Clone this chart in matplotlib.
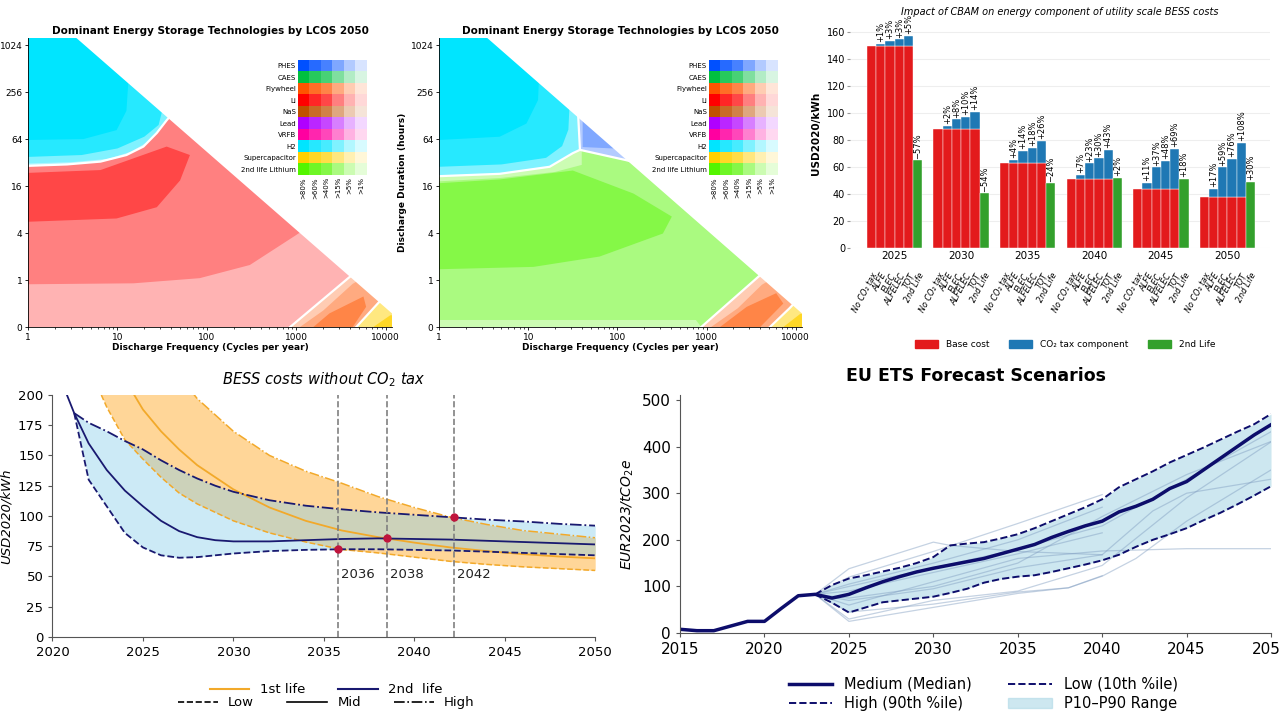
import numpy as np
import matplotlib.pyplot as plt
from matplotlib.lines import Line2D
from matplotlib.patches import Patch
from matplotlib.colors import to_rgb
from matplotlib.ticker import NullFormatter

plt.rcParams["font.family"] = "DejaVu Sans"

# ---------------- LCOS maps (top left / top middle) ----------------
techs = ["PHES", "CAES", "Flywheel", "Li", "NaS", "Lead", "VRFB", "H2",
         "Supercapacitor", "2nd life Lithium"]
tech_colors = ["#0050FF", "#00C040", "#FF5500", "#FF0000", "#C05000",
               "#B000FF", "#FF00A0", "#00E5FF", "#FFD000", "#55F500"]
share_labels = [">80%", ">60%", ">40%", ">15%", ">5%", ">1%"]
share_alpha = [1.0, 0.85, 0.72, 0.5, 0.3, 0.15]
freq_ticks = [1, 10, 100, 1000, 10000]
dur_labels = ["0", "1", "4", "16", "64", "256", "1024"]
cycle_hours_limit = 4380

# areas: technology, share level, log10(cycles per year), duration step (log4 hours, -1 = "0")
lcos_map_li = [
    ("Li", 4, [0, 4.3, 4.3, 0], [-1, -1, 6.5, 6.5]),
    ("Li", 3, [0, 1.18, 1.92, 2.48, 3.0, 3.5, 3.5, 0], [-0.09, -0.07, 0.04, 0.32, 0.96, 1.6, 6.5, 6.5]),
    ("Li", 2, [0, 0.81, 1.55, 1.81, 1.70, 1.44, 0.99, 0], [2.28, 2.34, 2.84, 2.66, 2.12, 1.55, 1.31, 1.24]),
    ("H2", 4, [0, 0.435, 0.81, 1.10, 1.29, 1.44, 1.55, 1.7, 1.7, 0], [2.43, 2.46, 2.52, 2.66, 2.84, 3.13, 3.40, 3.7, 6.5, 6.5]),
    ("H2", 3, [0, 0.5, 0.9, 1.15, 1.33, 1.46, 1.56, 1.7, 1.7, 0], [2.48, 2.51, 2.58, 2.73, 2.93, 3.2, 3.45, 3.7, 6.5, 6.5]),
    ("H2", 1, [0, 0.6, 1.0, 1.3, 1.46, 1.5, 1.5, 0], [2.62, 2.66, 2.8, 3.05, 3.3, 3.6, 6.5, 6.5]),
    ("H2", 0, [0, 0.62, 0.99, 1.1, 1.12, 1.12, 0], [2.98, 3.0, 3.19, 3.6, 4.18, 6.5, 6.5]),
    ("Flywheel", 4, [2.93, 3.58, 3.8, 4.3, 4.3], [-1, 0.04, 0.3, 0.3, -1]),
    ("Flywheel", 3, [3.04, 3.3, 3.63, 3.8, 4.3, 4.3], [-1, -0.65, -0.08, 0.1, 0.1, -1]),
    ("Flywheel", 2, [3.19, 3.37, 3.75, 3.78, 3.63], [-1, -0.71, -0.35, -0.57, -1]),
    ("Supercapacitor", 3, [3.67, 3.91, 4.0, 4.3, 4.3], [-1, -0.5, -0.3, -0.3, -1]),
    ("Supercapacitor", 1, [3.86, 4.05, 4.3, 4.3], [-1, -0.75, -0.75, -1]),
]
lcos_edges_li = [
    ([0, 0.435, 0.81, 1.10, 1.29, 1.44, 1.55, 1.62], [2.43, 2.46, 2.52, 2.66, 2.84, 3.13, 3.40, 3.55]),
    ([2.93, 3.58, 3.65], [-1, 0.04, 0.15]),
    ([3.67, 3.91, 3.97], [-1, -0.5, -0.38]),
]

lcos_map_2nd = [
    ("2nd life Lithium", 3, [0, 4.3, 4.3, 0], [-1, -1, 6.5, 6.5]),
    ("2nd life Lithium", 4, [0, 2.94, 2.88, 0], [-1, -1, -0.85, -0.85]),
    ("2nd life Lithium", 4, [0, 0.68, 1.3, 1.6, 1.6, 0], [2.1, 2.17, 2.3, 2.45, 6.5, 6.5]),
    ("2nd life Lithium", 2, [0, 0.68, 1.50, 2.18, 2.61, 2.51, 1.80, 1.06, 0], [2.06, 2.14, 2.33, 1.84, 1.35, 0.99, 0.50, 0.28, 0.23]),
    ("H2", 3, [0, 0.68, 1.24, 1.5, 1.58, 1.55, 0], [2.21, 2.26, 2.41, 2.70, 2.77, 6.5, 6.5]),
    ("H2", 1, [0, 0.7, 1.2, 1.38, 1.45, 1.47, 1.47, 0], [2.41, 2.46, 2.6, 2.85, 3.2, 4.0, 6.5, 6.5]),
    ("H2", 0, [0, 0.68, 0.98, 1.11, 1.12, 1.12, 0], [2.98, 3.05, 3.33, 3.83, 4.3, 6.5, 6.5]),
    ("PHES", 4, [1.58, 2.1, 2.4, 2.4, 1.55], [2.77, 2.55, 2.6, 6.5, 6.5]),
    ("PHES", 3, [1.61, 1.61, 1.95, 2.1], [3.6, 2.83, 2.8, 2.95]),
    ("Flywheel", 4, [2.94, 3.58, 3.8, 4.3, 4.3], [-1, 0.07, 0.3, 0.3, -1]),
    ("Flywheel", 3, [3.05, 3.35, 3.62, 3.8, 4.3, 4.3], [-1, -0.6, -0.1, 0.1, 0.1, -1]),
    ("Flywheel", 2, [3.15, 3.45, 3.78, 3.86, 3.6], [-1, -0.57, -0.28, -0.5, -1]),
    ("Supercapacitor", 3, [3.71, 3.93, 4.0, 4.3, 4.3], [-1, -0.6, -0.45, -0.45, -1]),
    ("Supercapacitor", 1, [3.86, 4.05, 4.3, 4.3], [-1, -0.72, -0.72, -1]),
]
lcos_edges_2nd = [
    ([0, 0.68, 1.24, 1.5, 1.58], [2.21, 2.26, 2.41, 2.70, 2.77]),
    ([1.58, 1.56], [2.77, 3.5]),
    ([1.58, 2.1, 2.2], [2.77, 2.55, 2.5]),
    ([2.94, 3.58, 3.65], [-1, 0.07, 0.18]),
    ([3.71, 3.93, 3.98], [-1, -0.6, -0.5]),
]

# ---------------- CBAM bars (top right) ----------------
bar_years = ["2025", "2030", "2035", "2040", "2045", "2050"]
bar_cats = ["No CO₂ tax", "ALFE", "ELEC", "ALFELEC", "TOT", "2nd Life"]
base_cost = [150, 88.5, 63, 51, 43.5, 37.5]
cost_alfe = [151.5, 90.5, 65.5, 54.5, 48.5, 44]
cost_elec = [154, 95.6, 72, 63, 60, 60]
cost_alfelec = [155, 97.5, 74.5, 66.5, 64.5, 66]
cost_tot = [157.5, 101, 79.5, 73, 73.5, 78]
cost_2nd = [65, 40.5, 48, 52, 51.5, 49]
pct_alfe = ["+1%", "+2%", "+4%", "+7%", "+11%", "+17%"]
pct_elec = ["+3%", "+8%", "+14%", "+23%", "+37%", "+59%"]
pct_alfelec = ["+3%", "+10%", "+18%", "+30%", "+48%", "+76%"]
pct_tot = ["+5%", "+14%", "+26%", "+43%", "+69%", "+108%"]
pct_2nd = ["−57%", "−54%", "−24%", "+2%", "+18%", "+30%"]

# ---------------- BESS costs (bottom left) ----------------
years_1st = [2022.7, 2023, 2024, 2025, 2026, 2027, 2028, 2030, 2032, 2034, 2036, 2038, 2040, 2042, 2044, 2046, 2048, 2050]
low_1st = [200, 190, 163, 147, 132, 119, 110, 96, 86, 78.5, 72.3, 69.5, 66, 62.5, 60, 58, 56.5, 55]
mid_1st = [262, 250, 213, 188, 170, 155, 142, 122, 107, 96, 88, 82.5, 78, 74, 71, 68.5, 66.5, 65]
high_1st = [330, 318, 290, 262, 238, 216, 197, 170, 150, 137, 127, 116, 107, 99, 93, 88, 85, 82]

years_2nd = [2021.2, 2022, 2023, 2024, 2025, 2026, 2027, 2028, 2029, 2030, 2032, 2034, 2036, 2038, 2040, 2042, 2044, 2046, 2048, 2050]
low_2nd = [185, 130, 108, 86, 74, 67.5, 65.5, 66, 67.5, 69, 71, 72, 72.5, 72.5, 72, 71.5, 70.5, 69.5, 68.5, 67.5]
high_2nd = [185, 177, 170, 162, 155, 146, 138, 131, 125, 120, 113, 108.5, 105.5, 103, 101, 99, 97, 95.5, 93.5, 92]
years_2nd_mid = [2020.8] + years_2nd
mid_2nd = [200, 185, 160, 138, 121, 108, 96, 87.5, 82.5, 80, 79, 79, 80, 81, 81.5, 81, 80.5, 79.5, 78.5, 77.5, 76.5]

cross_years = [2035.8, 2038.5, 2042.2]
cross_values = [72.5, 81.5, 99]
cross_labels = ["2036", "2038", "2042"]

# ---------------- EU ETS (bottom right) ----------------
ets_years = list(range(2015, 2051))
ets_median = [8, 5, 5, 15, 25, 25, 53, 80, 83, 75, 83, 97, 110, 121, 131, 139, 146, 153, 160, 170,
              180, 190, 205, 218, 230, 240, 260, 272, 287, 310, 325, 350, 375, 400, 425, 447]
band_years = list(range(2023, 2051))
ets_p90 = [83, 103, 117, 124, 132, 140, 150, 163, 188, 192, 195, 203, 212, 225, 240, 255, 270, 287,
           313, 330, 347, 366, 382, 398, 415, 432, 448, 470]
ets_p10 = [83, 65, 44, 55, 66, 70, 74, 78, 86, 95, 108, 116, 121, 124, 131, 139, 147, 156,
           168, 185, 200, 212, 225, 242, 258, 276, 295, 315]
scen_years = [
    [2023, 2025, 2030, 2031, 2035, 2040],
    [2023, 2025, 2030, 2035, 2040],
    [2023, 2025, 2030, 2035, 2040],
    [2023, 2025, 2030, 2035, 2040],
    [2023, 2025, 2030, 2035, 2040, 2045, 2050],
    [2023, 2025, 2030, 2035, 2038, 2040, 2042, 2045, 2050],
    [2023, 2025, 2030, 2035, 2040, 2045, 2050],
    [2023, 2025, 2030, 2035, 2040, 2043, 2045, 2050],
    [2023, 2025, 2030, 2035, 2040, 2045, 2050],
    [2023, 2025, 2030, 2035, 2040, 2045, 2050],
    [2023, 2025, 2030, 2035, 2038, 2040],
]
scen_values = [
    [83, 138, 195, 188, 175, 168],
    [83, 120, 175, 235, 297],
    [83, 105, 150, 200, 270],
    [83, 90, 130, 170, 215],
    [83, 60, 110, 160, 176, 181, 181],
    [83, 25, 55, 85, 97, 122, 160, 240, 350],
    [83, 30, 70, 90, 145, 290, 410],
    [83, 70, 95, 140, 168, 262, 300, 330],
    [83, 100, 140, 180, 230, 330, 432],
    [83, 75, 100, 150, 250, 340, 411],
    [83, 45, 62, 88, 97, 123],
]


def shade(tech, level):
    base = np.array(to_rgb(tech_colors[techs.index(tech)]))
    return tuple(1 - share_alpha[level] * (1 - base))


fig = plt.figure(figsize=(12.8, 7.2), dpi=100)


def draw_lcos(rect, areas, edges, key_rect, ylabel=None):
    ax = fig.add_axes(rect)
    for tech, lev, u, v in areas:
        ax.fill(10 ** np.array(u, dtype=float), v, color=shade(tech, lev), lw=0, zorder=1)
    for u, v in edges:
        ax.plot(10 ** np.array(u, dtype=float), v, color="white", lw=1.6, zorder=2)
    # nothing above the cycles x hours limit
    u_lim = np.array([0, 4.3])
    v_lim = (np.log10(cycle_hours_limit) - u_lim) / np.log10(4)
    ax.fill(10 ** np.r_[u_lim, u_lim[::-1]], np.r_[v_lim, 8, 8], color="white", lw=0, zorder=3)
    ax.set_xscale("log")
    ax.set_xlim(1, 10 ** 4.07)
    ax.set_ylim(-1, 5.15)
    ax.set_xticks(freq_ticks, labels=[str(f) for f in freq_ticks])
    ax.xaxis.set_minor_formatter(NullFormatter())
    ax.set_yticks(range(-1, 6), labels=dur_labels)
    ax.tick_params(labelsize=6.5, length=2.5, width=0.6, pad=1.5)
    ax.tick_params(which="minor", length=1.5, width=0.5)
    ax.spines[["top", "right"]].set_visible(False)
    ax.spines[["left", "bottom"]].set_linewidth(0.6)
    ax.set_title("Dominant Energy Storage Technologies by LCOS 2050", fontsize=7.5,
                 fontweight="bold", pad=3)
    ax.set_xlabel("Discharge Frequency (Cycles per year)", fontsize=6.5, fontweight="bold", labelpad=1)
    if ylabel:
        ax.set_ylabel(ylabel, fontsize=6.5, fontweight="bold", labelpad=3)

    kax = fig.add_axes(key_rect)
    grid = np.array([[shade(t, k) for k in range(6)] for t in techs])
    kax.imshow(grid, aspect="auto", interpolation="nearest")
    kax.set_yticks(range(len(techs)), labels=techs, fontsize=5)
    kax.set_xticks(range(6), labels=share_labels, rotation=90, fontsize=5)
    kax.tick_params(length=0, pad=1.5)
    for s in kax.spines.values():
        s.set_visible(False)


draw_lcos([0.0219, 0.5458, 0.2844, 0.4014], lcos_map_li, lcos_edges_li, [0.2328, 0.7569, 0.0539, 0.1597])
draw_lcos([0.343, 0.5458, 0.2836, 0.4014], lcos_map_2nd, lcos_edges_2nd, [0.5539, 0.7569, 0.0539, 0.1597],
          ylabel="Discharge Duration (hours)")

# ---------------- CBAM bars ----------------
red, blue, green = "#E31A1C", "#1F78B4", "#33A02C"
ax3 = fig.add_axes([0.664, 0.6556, 0.3281, 0.318])
pitch = 7.2
tax_sets = [cost_alfe, cost_elec, cost_alfelec, cost_tot]
pct_sets = [pct_alfe, pct_elec, pct_alfelec, pct_tot]
bar_pos = []
for i in range(len(bar_years)):
    x0 = i * pitch
    bar_pos += [x0 + j for j in range(6)]
    ax3.bar([x0 + j for j in range(5)], base_cost[i], width=1, color=red, edgecolor="white", lw=0.3)
    for j, (vals, pcts) in enumerate(zip(tax_sets, pct_sets)):
        ax3.bar(x0 + j + 1, vals[i] - base_cost[i], bottom=base_cost[i], width=1, color=blue,
                edgecolor="white", lw=0.3)
        ax3.text(x0 + j + 1, vals[i] + 1.2, pcts[i], rotation=90, ha="center", va="bottom", fontsize=6)
    ax3.bar(x0 + 5, cost_2nd[i], width=1, color=green, edgecolor="white", lw=0.3)
    ax3.text(x0 + 5, cost_2nd[i] + 1.2, pct_2nd[i], rotation=90, ha="center", va="bottom", fontsize=6)

ax3.set_xlim(-2.34, 43.1)
ax3.set_ylim(0, 170)
ax3.set_yticks(range(0, 161, 20))
ax3.set_xticks(bar_pos, labels=bar_cats * len(bar_years), rotation=62, ha="right",
               rotation_mode="anchor", fontsize=5.8, style="italic")
ax3.set_xticks([i * pitch + 2.5 for i in range(len(bar_years))], labels=bar_years, minor=True, fontsize=7.5)
ax3.tick_params(axis="x", which="major", length=0, pad=17)
ax3.tick_params(axis="x", which="minor", length=0, pad=2)
ax3.tick_params(axis="y", labelsize=7, length=2, color="#999999", pad=1.5)
ax3.yaxis.grid(True, color="#eeeeee", lw=0.8)
ax3.set_axisbelow(True)
for s in ax3.spines.values():
    s.set_visible(False)
ax3.set_ylabel("USD2020/kWh", fontsize=7.5, fontweight="bold", labelpad=4)
ax3.set_title("Impact of CBAM on energy component of utility scale BESS costs", fontsize=7,
              style="italic", pad=3)
fig.legend(handles=[Patch(color=red), Patch(color=blue), Patch(color=green)],
           labels=["Base cost", "CO₂ tax component", "2nd Life"], loc="center",
           bbox_to_anchor=(0.832, 0.521), ncol=3, frameon=False, fontsize=6.5,
           handlelength=2.6, handleheight=1.0, columnspacing=2.2)

# ---------------- BESS costs ----------------
orange, navy = "#F2A92A", "midnightblue"
ax4 = fig.add_axes([0.041, 0.1153, 0.424, 0.3361])
ax4.fill_between(years_1st, low_1st, high_1st, color="#FFAA28", alpha=0.48, lw=0)
ax4.fill_between(years_2nd, low_2nd, high_2nd, color="#87CEEB", alpha=0.42, lw=0)
ax4.plot(years_1st, low_1st, color=orange, ls="--", lw=1.1)
ax4.plot(years_1st, mid_1st, color=orange, ls="-", lw=1.3)
ax4.plot(years_1st, high_1st, color=orange, ls="-.", lw=1.1)
ax4.plot(years_2nd, low_2nd, color=navy, ls="--", lw=1.3)
ax4.plot(years_2nd_mid, mid_2nd, color=navy, ls="-", lw=1.3)
ax4.plot(years_2nd, high_2nd, color=navy, ls="-.", lw=1.3)
for yr, val, lab in zip(cross_years, cross_values, cross_labels):
    ax4.axvline(yr, color="grey", ls="--", lw=1.2)
    ax4.text(yr + 0.15, 52, lab, fontsize=9.5, va="center", ha="left", color="#222222")
ax4.plot(cross_years, cross_values, "o", color="#C0143C", ms=5, zorder=5)
ax4.set_xlim(2020, 2050)
ax4.set_ylim(0, 200)
ax4.set_xticks(range(2020, 2051, 5))
ax4.set_yticks(range(0, 201, 25))
ax4.tick_params(labelsize=9.5, length=3, color="#555555")
ax4.spines[["top", "right"]].set_visible(False)
ax4.spines[["left", "bottom"]].set_color("#555555")
ax4.set_ylabel("USD2020/kWh", fontsize=9.5, style="italic")
ax4.set_title("BESS costs without CO$_2$ tax", fontsize=10.5, style="italic", pad=8)
fig.legend(handles=[Line2D([], [], color=orange, lw=1.5), Line2D([], [], color=navy, lw=1.5)],
           labels=["1st life", "2nd  life"], loc="center", bbox_to_anchor=(0.255, 0.042),
           ncol=2, frameon=False, fontsize=9.5, handlelength=3.0, columnspacing=2.5,
           borderpad=0, borderaxespad=0)
fig.legend(handles=[Line2D([], [], color="k", ls="--", lw=1.2), Line2D([], [], color="k", lw=1.2),
                    Line2D([], [], color="k", ls="-.", lw=1.2)],
           labels=["Low", "Mid", "High"], loc="center", bbox_to_anchor=(0.255, 0.024),
           ncol=3, frameon=False, fontsize=9.5, handlelength=3.0, columnspacing=2.5,
           borderpad=0, borderaxespad=0)

# ---------------- EU ETS ----------------
dark = "#0D0D6B"
ax5 = fig.add_axes([0.5313, 0.1208, 0.4617, 0.3301])
ax5.fill_between(band_years, ets_p10, ets_p90, color="#ADD8E6", alpha=0.6, lw=0)
for yrs, vals in zip(scen_years, scen_values):
    ax5.plot(yrs, vals, color="#7F9CC0", alpha=0.45, lw=0.9)
ax5.plot(band_years, ets_p90, color=dark, ls="--", lw=1.4)
ax5.plot(band_years, ets_p10, color=dark, ls="--", lw=1.4)
ax5.plot(ets_years, ets_median, color=dark, lw=2.5)
ax5.set_xlim(2015, 2050)
ax5.set_ylim(0, 510)
ax5.set_xticks(range(2015, 2051, 5))
ax5.set_yticks(range(0, 501, 100))
ax5.tick_params(labelsize=11, length=3, color="#555555")
ax5.spines[["top", "right"]].set_visible(False)
ax5.spines[["left", "bottom"]].set_color("#555555")
ax5.set_ylabel("EUR2023/tCO$_2$e", fontsize=10, style="italic")
ax5.set_title("EU ETS Forecast Scenarios", fontsize=12.5, fontweight="bold", pad=10)
fig.legend(handles=[Line2D([], [], color=dark, lw=2.5), Line2D([], [], color=dark, ls="--", lw=1.4),
                    Line2D([], [], color=dark, ls="--", lw=1.4), Patch(color="#ADD8E6", alpha=0.6)],
           labels=["Medium (Median)", "High (90th %ile)", "Low (10th %ile)", "P10–P90 Range"],
           loc="center", bbox_to_anchor=(0.768, 0.036), ncol=2, frameon=False, fontsize=10.5,
           handlelength=3.0, columnspacing=2.5, borderpad=0, borderaxespad=0, labelspacing=0.3)

fig.savefig("out.png", dpi=100)
